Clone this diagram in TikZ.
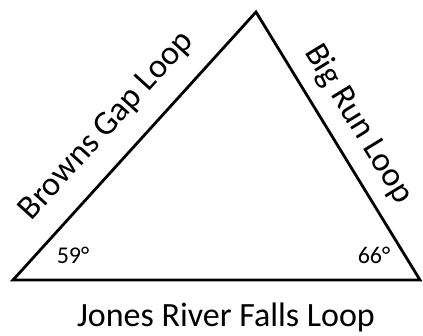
\documentclass[tikz,border=0pt]{standalone}
\usepackage{fontspec}
\setmainfont{Carlito}
\usetikzlibrary{positioning}
\tikzset{
  side/.style = {line width=2.8pt, line join=miter},
  sidelabel/.style = {font=\fontsize{34}{34}\selectfont, sloped, inner sep=0pt},
  anglelabel/.style = {font=\fontsize{24}{24}\selectfont, inner sep=0pt}
}
\begin{document}
\begin{tikzpicture}[x=1pt, y=-1pt]
  \useasboundingbox (0,0) rectangle (423,335);
  \coordinate (lv) at (13,280);
  \coordinate (tv) at (256,12);
  \coordinate (rv) at (420,280);

  \draw [side] (lv) -- (tv) -- (rv) -- cycle;

  \path (lv) -- node (browns) [sidelabel, above=20pt, pos=0.49] {Browns Gap Loop} (tv);
  \path (tv) -- node (bigrun) [sidelabel, above=14pt, pos=0.475] {Big Run Loop} (rv);
  \node (jones) [sidelabel, anchor=base] at (226,326) {Jones River Falls Loop};

  \node (leftangle) [anglelabel] at (73,255) {59°};
  \node (rightangle) [anglelabel] at (374,255) {66°};
\end{tikzpicture}
\end{document}
